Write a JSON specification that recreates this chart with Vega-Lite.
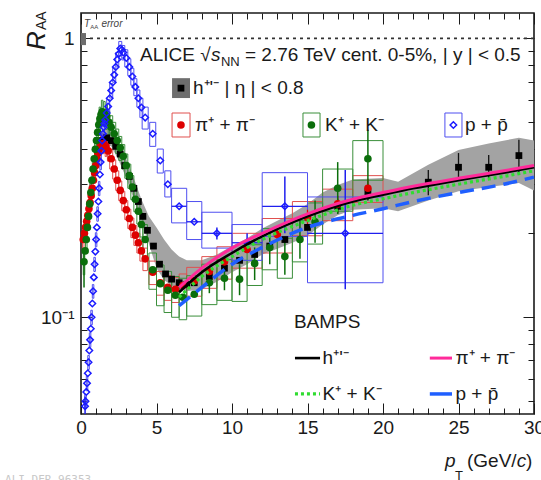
{
"$schema":"https://vega.github.io/schema/vega-lite/v6.json",
"width":453,"height":401,
"autosize":{"type":"none"},
"padding":{"left":81,"top":13,"right":7,"bottom":66},
"background":"white",
"config":{"view":{"stroke":"#1a1a1a","strokeWidth":1.6},"font":"Liberation Sans","text":{"font":"Liberation Sans","color":"#1a1a1a"}},
"resolve":{"axis":{"x":"independent","y":"independent"}},
"datasets":{
"band":[{"x":0.5,"lo":0.25,"hi":0.29},{"x":1.0,"lo":0.36,"hi":0.41},{"x":1.5,"lo":0.42,"hi":0.475},{"x":2.0,"lo":0.41,"hi":0.47},{"x":2.5,"lo":0.365,"hi":0.425},{"x":3.0,"lo":0.315,"hi":0.37},{"x":3.5,"lo":0.265,"hi":0.315},{"x":4.0,"lo":0.22,"hi":0.265},{"x":4.5,"lo":0.183,"hi":0.23},{"x":5.0,"lo":0.15,"hi":0.21},{"x":5.5,"lo":0.136,"hi":0.19},{"x":6.0,"lo":0.13,"hi":0.175},{"x":6.5,"lo":0.126,"hi":0.165},{"x":7.0,"lo":0.124,"hi":0.16},{"x":8.0,"lo":0.126,"hi":0.16},{"x":9.0,"lo":0.134,"hi":0.168},{"x":10,"lo":0.145,"hi":0.18},{"x":11,"lo":0.155,"hi":0.192},{"x":12,"lo":0.168,"hi":0.208},{"x":13,"lo":0.176,"hi":0.222},{"x":14,"lo":0.185,"hi":0.236},{"x":15,"lo":0.196,"hi":0.255},{"x":16,"lo":0.215,"hi":0.28},{"x":17,"lo":0.232,"hi":0.298},{"x":18,"lo":0.243,"hi":0.312},{"x":20,"lo":0.246,"hi":0.316},{"x":21,"lo":0.24,"hi":0.306},{"x":23,"lo":0.262,"hi":0.352},{"x":25,"lo":0.283,"hi":0.398},{"x":27,"lo":0.293,"hi":0.42},{"x":29,"lo":0.303,"hi":0.44},{"x":30,"lo":0.285,"hi":0.43}],
"pts":[
{"s":"h","x":1.1,"y":0.40},{"s":"h","x":1.4,"y":0.43},{"s":"h","x":1.7,"y":0.44},{"s":"h","x":2.0,"y":0.43},{"s":"h","x":2.3,"y":0.41},{"s":"h","x":2.6,"y":0.385},{"s":"h","x":2.9,"y":0.35},{"s":"h","x":3.2,"y":0.32},{"s":"h","x":3.5,"y":0.29},{"s":"h","x":3.8,"y":0.26},{"s":"h","x":4.1,"y":0.23},{"s":"h","x":4.4,"y":0.205},{"s":"h","x":4.8,"y":0.18},{"s":"h","x":5.2,"y":0.155},{"s":"h","x":5.6,"y":0.143},{"s":"h","x":6.0,"y":0.137},{"s":"h","x":6.5,"y":0.133},{"s":"h","x":7.0,"y":0.131},{"s":"h","x":7.5,"y":0.133},{"s":"h","x":8.5,"y":0.14},{"s":"h","x":9.5,"y":0.15},{"s":"h","x":10.5,"y":0.16},{"s":"h","x":11.5,"y":0.168},{"s":"h","x":12.5,"y":0.18},{"s":"h","x":13.5,"y":0.19},{"s":"h","x":15,"y":0.21},{"s":"h","x":17,"y":0.25},{"s":"h","x":19,"y":0.28},{"s":"h","x":23,"y":0.305},{"s":"h","x":25,"y":0.345},{"s":"h","x":27,"y":0.345},{"s":"h","x":29,"y":0.38},
{"s":"h","g":"leg","x":6.62,"y":0.663},
{"s":"pi","x":0.15,"y":0.19,"x1":0.1,"x2":0.2,"y1":0.175,"y2":0.205},
{"s":"pi","x":0.225,"y":0.2},
{"s":"pi","x":0.3,"y":0.21,"x1":0.25,"x2":0.35,"y1":0.193,"y2":0.227},
{"s":"pi","x":0.375,"y":0.221},
{"s":"pi","x":0.45,"y":0.232,"x1":0.4,"x2":0.5,"y1":0.213,"y2":0.25},
{"s":"pi","x":0.525,"y":0.245},
{"s":"pi","x":0.6,"y":0.258,"x1":0.55,"x2":0.65,"y1":0.237,"y2":0.279},
{"s":"pi","x":0.675,"y":0.273},
{"s":"pi","x":0.75,"y":0.29,"x1":0.7,"x2":0.8,"y1":0.267,"y2":0.313},
{"s":"pi","x":0.825,"y":0.31},
{"s":"pi","x":0.9,"y":0.33,"x1":0.85,"x2":0.95,"y1":0.304,"y2":0.356},
{"s":"pi","x":0.975,"y":0.35},
{"s":"pi","x":1.05,"y":0.37,"x1":1.0,"x2":1.1,"y1":0.34,"y2":0.4},
{"s":"pi","x":1.125,"y":0.387},
{"s":"pi","x":1.2,"y":0.4,"x1":1.15,"x2":1.25,"y1":0.368,"y2":0.432},
{"s":"pi","x":1.275,"y":0.41},
{"s":"pi","x":1.35,"y":0.418,"x1":1.3,"x2":1.4,"y1":0.385,"y2":0.451},
{"s":"pi","x":1.5,"y":0.42,"x1":1.45,"x2":1.55,"y1":0.386,"y2":0.454},
{"s":"pi","x":1.65,"y":0.41,"x1":1.6,"x2":1.7,"y1":0.377,"y2":0.443},
{"s":"pi","x":1.8,"y":0.395,"x1":1.75,"x2":1.85,"y1":0.363,"y2":0.427},
{"s":"pi","x":2.0,"y":0.37,"x1":1.9,"x2":2.1,"y1":0.34,"y2":0.4},
{"s":"pi","x":2.2,"y":0.34,"x1":2.1,"x2":2.3,"y1":0.313,"y2":0.367},
{"s":"pi","x":2.4,"y":0.31,"x1":2.3,"x2":2.5,"y1":0.285,"y2":0.335},
{"s":"pi","x":2.6,"y":0.285,"x1":2.5,"x2":2.7,"y1":0.262,"y2":0.308},
{"s":"pi","x":2.8,"y":0.262,"x1":2.7,"x2":2.9,"y1":0.241,"y2":0.283},
{"s":"pi","x":3.0,"y":0.243,"x1":2.9,"x2":3.1,"y1":0.224,"y2":0.262},
{"s":"pi","x":3.2,"y":0.226,"x1":3.1,"x2":3.3,"y1":0.208,"y2":0.244},
{"s":"pi","x":3.4,"y":0.21,"x1":3.3,"x2":3.5,"y1":0.193,"y2":0.227},
{"s":"pi","x":3.6,"y":0.197,"x1":3.5,"x2":3.7,"y1":0.181,"y2":0.213},
{"s":"pi","x":3.8,"y":0.185,"x1":3.7,"x2":3.9,"y1":0.17,"y2":0.2},
{"s":"pi","x":4.0,"y":0.173,"x1":3.9,"x2":4.1,"y1":0.159,"y2":0.187},
{"s":"pi","x":4.25,"y":0.162,"x1":4.1,"x2":4.4,"y1":0.147,"y2":0.177},
{"s":"pi","x":4.75,"y":0.145,"x1":4.5,"x2":5.0,"y1":0.131,"y2":0.159},
{"s":"pi","x":5.25,"y":0.133,"x1":5.0,"x2":5.5,"y1":0.12,"y2":0.146},
{"s":"pi","x":5.75,"y":0.128,"x1":5.5,"x2":6.0,"y1":0.115,"y2":0.141},
{"s":"pi","x":6.25,"y":0.126,"x1":6.0,"x2":6.5,"y1":0.113,"y2":0.139},
{"s":"pi","x":6.75,"y":0.13,"x1":6.5,"x2":7.0,"y1":0.117,"y2":0.143},
{"s":"pi","x":7.5,"y":0.135,"x1":7.0,"x2":8.0,"y1":0.119,"y2":0.151},
{"s":"pi","x":8.5,"y":0.146,"x1":8.0,"x2":9.0,"y1":0.127,"y2":0.165},
{"s":"pi","x":9.5,"y":0.158,"x1":9.0,"x2":10.0,"y1":0.137,"y2":0.179},
{"s":"pi","x":11,"y":0.175,"x1":10,"x2":12,"y1":0.15,"y2":0.2},
{"s":"pi","x":13,"y":0.198,"x1":12,"x2":14,"y1":0.17,"y2":0.226},
{"s":"pi","x":15,"y":0.228,"x1":14,"x2":16,"y1":0.196,"y2":0.26},
{"s":"pi","x":17,"y":0.255,"x1":16,"x2":18,"y1":0.222,"y2":0.288},
{"s":"pi","x":19,"y":0.29,"x1":18,"x2":20,"y1":0.258,"y2":0.322},
{"s":"pi","g":"leg","x":6.62,"y":0.489,"x1":6.03,"x2":7.22,"y1":0.443,"y2":0.54},
{"s":"K","x":0.2,"y":0.158,"x1":0.15,"x2":0.25,"y1":0.142,"y2":0.174},
{"s":"K","x":0.275,"y":0.173},
{"s":"K","x":0.35,"y":0.19,"x1":0.3,"x2":0.4,"y1":0.171,"y2":0.209},
{"s":"K","x":0.425,"y":0.21},
{"s":"K","x":0.5,"y":0.23,"x1":0.45,"x2":0.55,"y1":0.207,"y2":0.253},
{"s":"K","x":0.575,"y":0.255},
{"s":"K","x":0.65,"y":0.28,"x1":0.6,"x2":0.7,"y1":0.252,"y2":0.308},
{"s":"K","x":0.725,"y":0.31},
{"s":"K","x":0.8,"y":0.34,"x1":0.75,"x2":0.85,"y1":0.306,"y2":0.374},
{"s":"K","x":0.875,"y":0.37},
{"s":"K","x":0.95,"y":0.4,"x1":0.9,"x2":1.0,"y1":0.36,"y2":0.44},
{"s":"K","x":1.025,"y":0.43},
{"s":"K","x":1.1,"y":0.46,"x1":1.05,"x2":1.15,"y1":0.414,"y2":0.506},
{"s":"K","x":1.175,"y":0.49},
{"s":"K","x":1.25,"y":0.515,"x1":1.2,"x2":1.3,"y1":0.464,"y2":0.567},
{"s":"K","x":1.325,"y":0.533},
{"s":"K","x":1.4,"y":0.545,"x1":1.35,"x2":1.45,"y1":0.49,"y2":0.6},
{"s":"K","x":1.55,"y":0.54,"x1":1.5,"x2":1.6,"y1":0.486,"y2":0.594},
{"s":"K","x":1.7,"y":0.525,"x1":1.65,"x2":1.75,"y1":0.472,"y2":0.578},
{"s":"K","x":1.85,"y":0.5,"x1":1.8,"x2":1.9,"y1":0.45,"y2":0.55},
{"s":"K","x":2.0,"y":0.48,"x1":1.9,"x2":2.1,"y1":0.432,"y2":0.528},
{"s":"K","x":2.2,"y":0.455,"x1":2.1,"x2":2.3,"y1":0.41,"y2":0.5},
{"s":"K","x":2.4,"y":0.43,"x1":2.3,"x2":2.5,"y1":0.387,"y2":0.473},
{"s":"K","x":2.6,"y":0.405,"x1":2.5,"x2":2.7,"y1":0.365,"y2":0.445},
{"s":"K","x":2.8,"y":0.378,"x1":2.7,"x2":2.9,"y1":0.34,"y2":0.416},
{"s":"K","x":3.0,"y":0.35,"x1":2.9,"x2":3.1,"y1":0.315,"y2":0.385},
{"s":"K","x":3.2,"y":0.322,"x1":3.1,"x2":3.3,"y1":0.29,"y2":0.354},
{"s":"K","x":3.4,"y":0.293,"x1":3.3,"x2":3.5,"y1":0.264,"y2":0.322},
{"s":"K","x":3.6,"y":0.265,"x1":3.5,"x2":3.7,"y1":0.239,"y2":0.292},
{"s":"K","x":3.8,"y":0.24,"x1":3.7,"x2":3.9,"y1":0.216,"y2":0.264},
{"s":"K","x":4.0,"y":0.215,"x1":3.9,"x2":4.1,"y1":0.194,"y2":0.237},
{"s":"K","x":4.25,"y":0.19,"x1":4.1,"x2":4.4,"y1":0.165,"y2":0.215},
{"s":"K","x":4.75,"y":0.148,"x1":4.5,"x2":5.0,"y1":0.126,"y2":0.17},
{"s":"K","x":5.25,"y":0.132,"x1":5.0,"x2":5.5,"y1":0.11,"y2":0.154},
{"s":"K","x":5.75,"y":0.125,"x1":5.5,"x2":6.0,"y1":0.104,"y2":0.146},
{"s":"K","x":6.25,"y":0.12,"x1":6.0,"x2":6.5,"y1":0.1,"y2":0.14},
{"s":"K","x":6.75,"y":0.118,"x1":6.5,"x2":7.0,"y1":0.098,"y2":0.138},
{"s":"K","x":7.5,"y":0.121,"x1":7.0,"x2":8.0,"y1":0.101,"y2":0.141},
{"s":"K","x":8.5,"y":0.133,"x1":8.0,"x2":9.0,"y1":0.111,"y2":0.155},
{"s":"K","x":9.5,"y":0.138,"x1":9.0,"x2":10.0,"y1":0.115,"y2":0.161},
{"s":"K","x":10.5,"y":0.137,"x1":10,"x2":11,"y1":0.114,"y2":0.16},
{"s":"K","x":11.5,"y":0.156,"x1":11,"x2":12,"y1":0.13,"y2":0.182},
{"s":"K","x":12.5,"y":0.178,"x1":12,"x2":13,"y1":0.148,"y2":0.208},
{"s":"K","x":13.5,"y":0.165,"x1":13,"x2":14,"y1":0.138,"y2":0.192},
{"s":"K","x":14.5,"y":0.19,"x1":14,"x2":15,"y1":0.158,"y2":0.222},
{"s":"K","x":15.5,"y":0.22,"x1":15,"x2":16,"y1":0.183,"y2":0.257},
{"s":"K","x":17,"y":0.29,"x1":16,"x2":18,"y1":0.24,"y2":0.34},
{"s":"K","x":19,"y":0.37,"x1":18,"x2":20,"y1":0.31,"y2":0.43},
{"s":"K","g":"leg","x":15.26,"y":0.489,"x1":14.7,"x2":15.83,"y1":0.443,"y2":0.54},
{"s":"p","x":0.27,"y":0.048},
{"s":"p","x":0.3,"y":0.05,"x1":0.25,"x2":0.35,"y1":0.047,"y2":0.053},
{"s":"p","x":0.35,"y":0.054},
{"s":"p","x":0.4,"y":0.058,"x1":0.35,"x2":0.45,"y1":0.0545,"y2":0.0615},
{"s":"p","x":0.45,"y":0.063},
{"s":"p","x":0.5,"y":0.069,"x1":0.45,"x2":0.55,"y1":0.065,"y2":0.073},
{"s":"p","x":0.55,"y":0.076},
{"s":"p","x":0.6,"y":0.083,"x1":0.55,"x2":0.65,"y1":0.078,"y2":0.088},
{"s":"p","x":0.65,"y":0.091},
{"s":"p","x":0.7,"y":0.1,"x1":0.65,"x2":0.75,"y1":0.094,"y2":0.106},
{"s":"p","x":0.75,"y":0.112},
{"s":"p","x":0.8,"y":0.124,"x1":0.75,"x2":0.85,"y1":0.117,"y2":0.131},
{"s":"p","x":0.85,"y":0.139},
{"s":"p","x":0.9,"y":0.155,"x1":0.85,"x2":0.95,"y1":0.146,"y2":0.164},
{"s":"p","x":0.95,"y":0.172},
{"s":"p","x":1.0,"y":0.19,"x1":0.95,"x2":1.05,"y1":0.179,"y2":0.201},
{"s":"p","x":1.05,"y":0.21},
{"s":"p","x":1.1,"y":0.235,"x1":1.05,"x2":1.15,"y1":0.221,"y2":0.249},
{"s":"p","x":1.15,"y":0.26},
{"s":"p","x":1.2,"y":0.29,"x1":1.15,"x2":1.25,"y1":0.273,"y2":0.307},
{"s":"p","x":1.25,"y":0.325},
{"s":"p","x":1.3,"y":0.36,"x1":1.25,"x2":1.35,"y1":0.338,"y2":0.382},
{"s":"p","x":1.35,"y":0.395},
{"s":"p","x":1.4,"y":0.43,"x1":1.35,"x2":1.45,"y1":0.404,"y2":0.456},
{"s":"p","x":1.45,"y":0.455},
{"s":"p","x":1.5,"y":0.48,"x1":1.45,"x2":1.55,"y1":0.451,"y2":0.509},
{"s":"p","x":1.55,"y":0.495},
{"s":"p","x":1.6,"y":0.51,"x1":1.55,"x2":1.65,"y1":0.479,"y2":0.541},
{"s":"p","x":1.7,"y":0.54},
{"s":"p","x":1.8,"y":0.57,"x1":1.7,"x2":1.9,"y1":0.536,"y2":0.604},
{"s":"p","x":1.9,"y":0.61},
{"s":"p","x":2.0,"y":0.65,"x1":1.9,"x2":2.1,"y1":0.611,"y2":0.689},
{"s":"p","x":2.1,"y":0.695},
{"s":"p","x":2.2,"y":0.74,"x1":2.1,"x2":2.3,"y1":0.696,"y2":0.784},
{"s":"p","x":2.3,"y":0.79},
{"s":"p","x":2.4,"y":0.84,"x1":2.3,"x2":2.5,"y1":0.79,"y2":0.89},
{"s":"p","x":2.5,"y":0.88},
{"s":"p","x":2.6,"y":0.92,"x1":2.5,"x2":2.7,"y1":0.865,"y2":0.975},
{"s":"p","x":2.7,"y":0.91},
{"s":"p","x":2.8,"y":0.89,"x1":2.7,"x2":2.9,"y1":0.837,"y2":0.943},
{"s":"p","x":3.0,"y":0.85,"x1":2.9,"x2":3.1,"y1":0.79,"y2":0.91},
{"s":"p","x":3.2,"y":0.79,"x1":3.1,"x2":3.3,"y1":0.735,"y2":0.845},
{"s":"p","x":3.4,"y":0.73,"x1":3.3,"x2":3.5,"y1":0.679,"y2":0.781},
{"s":"p","x":3.6,"y":0.67,"x1":3.5,"x2":3.7,"y1":0.623,"y2":0.717},
{"s":"p","x":3.8,"y":0.61,"x1":3.7,"x2":3.9,"y1":0.567,"y2":0.653},
{"s":"p","x":4.0,"y":0.565,"x1":3.9,"x2":4.1,"y1":0.52,"y2":0.61},
{"s":"p","x":4.25,"y":0.52,"x1":4.05,"x2":4.45,"y1":0.473,"y2":0.567},
{"s":"p","x":4.75,"y":0.455,"x1":4.55,"x2":4.95,"y1":0.41,"y2":0.5},
{"s":"p","x":5.25,"y":0.365,"x1":5.05,"x2":5.45,"y1":0.329,"y2":0.401},
{"s":"p","x":5.75,"y":0.3,"x1":5.55,"x2":5.95,"y1":0.27,"y2":0.335},
{"s":"p","x":6.5,"y":0.25,"x1":6.0,"x2":7.0,"y1":0.218,"y2":0.29},
{"s":"p","x":7.5,"y":0.22,"x1":7.0,"x2":8.0,"y1":0.19,"y2":0.26},
{"s":"p","x":9,"y":0.2,"x1":8.0,"x2":10.0,"y1":0.177,"y2":0.238},
{"s":"p","x":11,"y":0.185,"x1":10,"x2":12,"y1":0.16,"y2":0.215},
{"s":"p","x":13.5,"y":0.25,"x1":12,"x2":15,"y1":0.195,"y2":0.33},
{"s":"p","x":17.5,"y":0.2,"x1":15,"x2":20,"y1":0.133,"y2":0.27},
{"s":"p","g":"leg","x":24.66,"y":0.489,"x1":24.1,"x2":25.23,"y1":0.443,"y2":0.54}
],
"err":[
{"s":"h","x":17,"e1":0.235,"e2":0.266},{"s":"h","x":19,"e1":0.262,"e2":0.3},{"s":"h","x":23,"e1":0.274,"e2":0.337},{"s":"h","x":25,"e1":0.316,"e2":0.388},{"s":"h","x":27,"e1":0.311,"e2":0.382},{"s":"h","x":29,"e1":0.332,"e2":0.433},
{"s":"pi","x":13,"e1":0.188,"e2":0.209},{"s":"pi","x":15,"e1":0.214,"e2":0.243},{"s":"pi","x":17,"e1":0.238,"e2":0.273},{"s":"pi","x":19,"e1":0.268,"e2":0.314},
{"s":"K","x":0.2,"e1":0.128,"e2":0.175},{"s":"K","x":8.5,"e1":0.122,"e2":0.145},{"s":"K","x":9.5,"e1":0.125,"e2":0.152},{"s":"K","x":10.5,"e1":0.12,"e2":0.155},{"s":"K","x":11.5,"e1":0.136,"e2":0.178},{"s":"K","x":12.5,"e1":0.155,"e2":0.205},{"s":"K","x":13.5,"e1":0.142,"e2":0.192},{"s":"K","x":14.5,"e1":0.162,"e2":0.222},{"s":"K","x":15.5,"e1":0.185,"e2":0.262},{"s":"K","x":17,"e1":0.235,"e2":0.36},{"s":"K","x":19,"e1":0.264,"e2":0.47},
{"s":"p","x":0.27,"e1":0.045,"e2":0.052},{"s":"p","x":9,"e1":0.19,"e2":0.21},{"s":"p","x":11,"e1":0.17,"e2":0.2},{"s":"p","x":13.5,"e1":0.2,"e2":0.32},{"s":"p","x":17.5,"e1":0.126,"e2":0.337}
],
"pxerr":[{"y":0.25,"x1":6.0,"x2":7.0},{"y":0.22,"x1":7.0,"x2":8.0},{"y":0.2,"x1":8.0,"x2":10.0},{"y":0.185,"x1":10,"x2":12},{"y":0.25,"x1":12,"x2":15},{"y":0.2,"x1":15,"x2":20}],
"bamps":[
{"s":"h","g":"c","x":6.5,"y":0.123},{"s":"h","g":"c","x":8,"y":0.145},{"s":"h","g":"c","x":10,"y":0.17},{"s":"h","g":"c","x":12,"y":0.195},{"s":"h","g":"c","x":15,"y":0.23},{"s":"h","g":"c","x":18,"y":0.26},{"s":"h","g":"c","x":20,"y":0.275},{"s":"h","g":"c","x":22,"y":0.29},{"s":"h","g":"c","x":25,"y":0.31},{"s":"h","g":"c","x":28,"y":0.33},{"s":"h","g":"c","x":30,"y":0.345},
{"s":"h","g":"l","x":14.17,"y":0.0714},{"s":"h","g":"l","x":15.83,"y":0.0714},
{"s":"pi","g":"c","x":6.5,"y":0.128},{"s":"pi","g":"c","x":8,"y":0.15},{"s":"pi","g":"c","x":10,"y":0.177},{"s":"pi","g":"c","x":12,"y":0.2},{"s":"pi","g":"c","x":15,"y":0.235},{"s":"pi","g":"c","x":18,"y":0.265},{"s":"pi","g":"c","x":20,"y":0.28},{"s":"pi","g":"c","x":22,"y":0.295},{"s":"pi","g":"c","x":25,"y":0.315},{"s":"pi","g":"c","x":28,"y":0.335},{"s":"pi","g":"c","x":30,"y":0.35},
{"s":"pi","g":"l","x":23.1,"y":0.0714},{"s":"pi","g":"l","x":24.57,"y":0.0714},
{"s":"K","g":"c","x":6.5,"y":0.118},{"s":"K","g":"c","x":8,"y":0.14},{"s":"K","g":"c","x":10,"y":0.165},{"s":"K","g":"c","x":12,"y":0.19},{"s":"K","g":"c","x":15,"y":0.222},{"s":"K","g":"c","x":18,"y":0.252},{"s":"K","g":"c","x":20,"y":0.266},{"s":"K","g":"c","x":22,"y":0.28},{"s":"K","g":"c","x":25,"y":0.3},{"s":"K","g":"c","x":28,"y":0.32},{"s":"K","g":"c","x":30,"y":0.335},
{"s":"K","g":"l","x":14.17,"y":0.0531},{"s":"K","g":"l","x":15.83,"y":0.0531},
{"s":"p","g":"c","x":6.5,"y":0.11},{"s":"p","g":"c","x":8,"y":0.128},{"s":"p","g":"c","x":10,"y":0.155},{"s":"p","g":"c","x":12,"y":0.178},{"s":"p","g":"c","x":15,"y":0.21},{"s":"p","g":"c","x":18,"y":0.232},{"s":"p","g":"c","x":20,"y":0.245},{"s":"p","g":"c","x":22,"y":0.26},{"s":"p","g":"c","x":25,"y":0.28},{"s":"p","g":"c","x":28,"y":0.3},{"s":"p","g":"c","x":30,"y":0.318}
],
"pleg":[{"x":23.1,"y":0.0531,"x2":24.57}],
"txt":[
{"t":"ALICE √","x":3.91,"y":0.871},
{"t":"= 2.76 TeV cent. 0-5%, | y | < 0.5","x":10.86,"y":0.871},
{"t":"h⁺'⁻ | η | < 0.8","x":7.42,"y":0.663},
{"t":"π⁺ + π⁻","x":7.55,"y":0.489},
{"t":"K⁺ + K⁻","x":16.16,"y":0.489},
{"t":"p + p̄","x":25.43,"y":0.489},
{"t":"BAMPS","x":14.1,"y":0.0961},
{"t":"h⁺'⁻","x":16.0,"y":0.0714},
{"t":"π⁺ + π⁻","x":24.8,"y":0.0714},
{"t":"K⁺ + K⁻","x":16.0,"y":0.0531},
{"t":"p + p̄","x":24.8,"y":0.0531}
],
"txtit":[{"t":"s","x":8.61,"y":0.871}],
"txtsub":[{"t":"NN","x":9.27,"y":0.822}],
"xtitle":[{"t":"(GeV/","x":25.56,"y":0.029},{"t":")","x":29.47,"y":0.029}],
"xtitleit":[{"t":"p","x":24.1,"y":0.029},{"t":"c","x":28.85,"y":0.029}],
"xtitlesub":[{"t":"T","x":24.77,"y":0.0262}],
"ytitle":[{"t":"R","x":-2.38,"y":0.908}],
"ytitlesub":[{"t":"AA","x":-2.32,"y":1.071}],
"taa":[{"x1":0,"x2":0.33,"y1":0.946,"y2":1.045}],
"taatxt":[{"t":"T","x":0.2,"y":1.098},{"t":"error","x":1.35,"y":1.098}],
"taatxt2":[{"t":"AA","x":0.62,"y":1.08}],
"hleg":[{"x1":6.03,"x2":7.22,"y1":0.611,"y2":0.72}],
"wm":[{"t":"ALI-DER-96353","x":-5.03,"y":0.0254}]
},
"layer":[
{"data":{"name":"band"},"mark":{"type":"area","color":"#a3a3a3"},
 "encoding":{
  "x":{"field":"x","type":"quantitative","scale":{"domain":[0,30],"nice":false,"zero":false},
   "axis":{"orient":"bottom","values":[0,1,2,3,4,5,6,7,8,9,10,11,12,13,14,15,16,17,18,19,20,21,22,23,24,25,26,27,28,29,30],"labelExpr":"datum.value % 5 === 0 ? datum.label : ''","tickSize":{"condition":{"test":"datum.value % 5 === 0","value":-11},"value":-6},"tickColor":"#1a1a1a","tickWidth":1,"labelPadding":15,"labelFontSize":19,"labelFont":"Liberation Sans","labelColor":"#1a1a1a","labelFlush":false,"labelOverlap":false,"domain":false,"grid":false,"title":null}},
  "y":{"field":"lo","type":"quantitative","scale":{"type":"log","domain":[0.045,1.233],"nice":false},
   "axis":{"orient":"left","values":[0.05,0.06,0.07,0.08,0.09,0.1,0.2,0.3,0.4,0.5,0.6,0.7,0.8,0.9,1],"labelExpr":"datum.value == 1 ? '1' : (datum.value == 0.1 ? '10⁻¹' : '')","tickSize":{"condition":{"test":"datum.value == 1 || datum.value == 0.1","value":-11},"value":-6},"tickColor":"#1a1a1a","tickWidth":1,"labelPadding":18,"labelFontSize":19,"labelFont":"Liberation Sans","labelColor":"#1a1a1a","labelFlush":false,"labelOverlap":false,"domain":false,"grid":false,"title":null}},
  "y2":{"field":"hi"}}},
{"data":{"values":[{}]},"mark":{"type":"rule","strokeDash":[3,4],"color":"#333","strokeWidth":1.6},
 "encoding":{"y":{"datum":1,"type":"quantitative","scale":{"type":"log","domain":[0.045,1.233],"nice":false},"axis":null}}},
{"data":{"name":"taa"},"mark":{"type":"rect","color":"#6e6e6e"},
 "encoding":{"x":{"field":"x1","type":"quantitative","scale":{"domain":[0,30],"nice":false,"zero":false},"axis":null},"x2":{"field":"x2"},
  "y":{"field":"y1","type":"quantitative","scale":{"type":"log","domain":[0.045,1.233],"nice":false},"axis":null},"y2":{"field":"y2"}}},
{"data":{"name":"hleg"},"mark":{"type":"rect","color":"#6e6e6e"},
 "encoding":{"x":{"field":"x1","type":"quantitative","scale":{"domain":[0,30],"nice":false,"zero":false},"axis":null},"x2":{"field":"x2"},
  "y":{"field":"y1","type":"quantitative","scale":{"type":"log","domain":[0.045,1.233],"nice":false},"axis":null},"y2":{"field":"y2"}}},
{"data":{"name":"pts"},"transform":[{"filter":"datum.s === 'pi' && isValid(datum.x1)"}],"mark":{"type":"rect","fill":null,"fillOpacity":0,"stroke":"#e0504f","strokeWidth":1},
 "encoding":{"x":{"field":"x1","type":"quantitative","scale":{"domain":[0,30],"nice":false,"zero":false},"axis":null},"x2":{"field":"x2"},
  "y":{"field":"y1","type":"quantitative","scale":{"type":"log","domain":[0.045,1.233],"nice":false},"axis":null},"y2":{"field":"y2"}}},
{"data":{"name":"pts"},"transform":[{"filter":"datum.s === 'K' && isValid(datum.x1)"}],"mark":{"type":"rect","fill":null,"fillOpacity":0,"stroke":"#3b8f3b","strokeWidth":1},
 "encoding":{"x":{"field":"x1","type":"quantitative","scale":{"domain":[0,30],"nice":false,"zero":false},"axis":null},"x2":{"field":"x2"},
  "y":{"field":"y1","type":"quantitative","scale":{"type":"log","domain":[0.045,1.233],"nice":false},"axis":null},"y2":{"field":"y2"}}},
{"data":{"name":"pts"},"transform":[{"filter":"datum.s === 'p' && isValid(datum.x1)"}],"mark":{"type":"rect","fill":null,"fillOpacity":0,"stroke":"#4f4ff0","strokeWidth":1},
 "encoding":{"x":{"field":"x1","type":"quantitative","scale":{"domain":[0,30],"nice":false,"zero":false},"axis":null},"x2":{"field":"x2"},
  "y":{"field":"y1","type":"quantitative","scale":{"type":"log","domain":[0.045,1.233],"nice":false},"axis":null},"y2":{"field":"y2"}}},
{"data":{"name":"pxerr"},"mark":{"type":"rule","color":"#2020ee","strokeWidth":1.3},
 "encoding":{"x":{"field":"x1","type":"quantitative","scale":{"domain":[0,30],"nice":false,"zero":false},"axis":null},"x2":{"field":"x2"},
  "y":{"field":"y","type":"quantitative","scale":{"type":"log","domain":[0.045,1.233],"nice":false},"axis":null}}},
{"data":{"name":"err"},"transform":[{"filter":"datum.s === 'h'"}],"mark":{"type":"rule","color":"#111","strokeWidth":1.3},
 "encoding":{"x":{"field":"x","type":"quantitative","scale":{"domain":[0,30],"nice":false,"zero":false},"axis":null},
  "y":{"field":"e1","type":"quantitative","scale":{"type":"log","domain":[0.045,1.233],"nice":false},"axis":null},"y2":{"field":"e2"}}},
{"data":{"name":"err"},"transform":[{"filter":"datum.s === 'pi'"}],"mark":{"type":"rule","color":"#dd0000","strokeWidth":1.3},
 "encoding":{"x":{"field":"x","type":"quantitative","scale":{"domain":[0,30],"nice":false,"zero":false},"axis":null},
  "y":{"field":"e1","type":"quantitative","scale":{"type":"log","domain":[0.045,1.233],"nice":false},"axis":null},"y2":{"field":"e2"}}},
{"data":{"name":"err"},"transform":[{"filter":"datum.s === 'K'"}],"mark":{"type":"rule","color":"#0b6e0b","strokeWidth":1.5},
 "encoding":{"x":{"field":"x","type":"quantitative","scale":{"domain":[0,30],"nice":false,"zero":false},"axis":null},
  "y":{"field":"e1","type":"quantitative","scale":{"type":"log","domain":[0.045,1.233],"nice":false},"axis":null},"y2":{"field":"e2"}}},
{"data":{"name":"err"},"transform":[{"filter":"datum.s === 'p'"}],"mark":{"type":"rule","color":"#2020ee","strokeWidth":1.5},
 "encoding":{"x":{"field":"x","type":"quantitative","scale":{"domain":[0,30],"nice":false,"zero":false},"axis":null},
  "y":{"field":"e1","type":"quantitative","scale":{"type":"log","domain":[0.045,1.233],"nice":false},"axis":null},"y2":{"field":"e2"}}},
{"data":{"name":"pts"},"transform":[{"filter":"datum.s === 'h'"}],"mark":{"type":"point","shape":"square","filled":true,"color":"#000","size":46,"opacity":1},
 "encoding":{"x":{"field":"x","type":"quantitative","scale":{"domain":[0,30],"nice":false,"zero":false},"axis":null},
  "y":{"field":"y","type":"quantitative","scale":{"type":"log","domain":[0.045,1.233],"nice":false},"axis":null}}},
{"data":{"name":"pts"},"transform":[{"filter":"datum.s === 'pi'"}],"mark":{"type":"point","shape":"circle","filled":true,"color":"#dd0000","size":58,"opacity":1},
 "encoding":{"x":{"field":"x","type":"quantitative","scale":{"domain":[0,30],"nice":false,"zero":false},"axis":null},
  "y":{"field":"y","type":"quantitative","scale":{"type":"log","domain":[0.045,1.233],"nice":false},"axis":null}}},
{"data":{"name":"pts"},"transform":[{"filter":"datum.s === 'K'"}],"mark":{"type":"point","shape":"circle","filled":true,"color":"#0b6e0b","size":58,"opacity":1},
 "encoding":{"x":{"field":"x","type":"quantitative","scale":{"domain":[0,30],"nice":false,"zero":false},"axis":null},
  "y":{"field":"y","type":"quantitative","scale":{"type":"log","domain":[0.045,1.233],"nice":false},"axis":null}}},
{"data":{"name":"pts"},"transform":[{"filter":"datum.s === 'p'"}],"mark":{"type":"point","shape":"diamond","filled":false,"color":"#1a1aff","size":42,"strokeWidth":1.5,"opacity":1},
 "encoding":{"x":{"field":"x","type":"quantitative","scale":{"domain":[0,30],"nice":false,"zero":false},"axis":null},
  "y":{"field":"y","type":"quantitative","scale":{"type":"log","domain":[0.045,1.233],"nice":false},"axis":null}}},
{"data":{"name":"bamps"},"transform":[{"filter":"datum.s === 'p'"}],"mark":{"type":"line","color":"#1f5fff","strokeWidth":3.5,"strokeDash":[14,8],"interpolate":"monotone"},
 "encoding":{"detail":{"field":"g"},"x":{"field":"x","type":"quantitative","scale":{"domain":[0,30],"nice":false,"zero":false},
   "axis":{"orient":"top","values":[0,1,2,3,4,5,6,7,8,9,10,11,12,13,14,15,16,17,18,19,20,21,22,23,24,25,26,27,28,29,30],"labels":false,"tickSize":{"condition":{"test":"datum.value % 5 === 0","value":-11},"value":-6},"tickColor":"#1a1a1a","domain":false,"grid":false,"title":null}},
  "y":{"field":"y","type":"quantitative","scale":{"type":"log","domain":[0.045,1.233],"nice":false},
   "axis":{"orient":"right","values":[0.05,0.06,0.07,0.08,0.09,0.1,0.2,0.3,0.4,0.5,0.6,0.7,0.8,0.9,1],"labels":false,"tickSize":{"condition":{"test":"datum.value == 1 || datum.value == 0.1","value":-11},"value":-6},"tickColor":"#1a1a1a","domain":false,"grid":false,"title":null}}}},
{"data":{"name":"pleg"},"mark":{"type":"rule","color":"#1f5fff","strokeWidth":3.5},
 "encoding":{"x":{"field":"x","type":"quantitative","scale":{"domain":[0,30],"nice":false,"zero":false},"axis":null},"x2":{"field":"x2"},
  "y":{"field":"y","type":"quantitative","scale":{"type":"log","domain":[0.045,1.233],"nice":false},"axis":null}}},
{"data":{"name":"bamps"},"transform":[{"filter":"datum.s === 'h'"}],"mark":{"type":"line","color":"#000","strokeWidth":2.6,"interpolate":"monotone"},
 "encoding":{"detail":{"field":"g"},"x":{"field":"x","type":"quantitative","scale":{"domain":[0,30],"nice":false,"zero":false},"axis":null},
  "y":{"field":"y","type":"quantitative","scale":{"type":"log","domain":[0.045,1.233],"nice":false},"axis":null}}},
{"data":{"name":"bamps"},"transform":[{"filter":"datum.s === 'pi'"}],"mark":{"type":"line","color":"#ff2a9a","strokeWidth":3,"interpolate":"monotone"},
 "encoding":{"detail":{"field":"g"},"x":{"field":"x","type":"quantitative","scale":{"domain":[0,30],"nice":false,"zero":false},"axis":null},
  "y":{"field":"y","type":"quantitative","scale":{"type":"log","domain":[0.045,1.233],"nice":false},"axis":null}}},
{"data":{"name":"bamps"},"transform":[{"filter":"datum.s === 'K'"}],"mark":{"type":"line","color":"#2fdc2f","strokeWidth":3.2,"strokeDash":[3,3],"interpolate":"monotone"},
 "encoding":{"detail":{"field":"g"},"x":{"field":"x","type":"quantitative","scale":{"domain":[0,30],"nice":false,"zero":false},"axis":null},
  "y":{"field":"y","type":"quantitative","scale":{"type":"log","domain":[0.045,1.233],"nice":false},"axis":null}}},
{"data":{"name":"txt"},"mark":{"type":"text","align":"left","baseline":"middle","fontSize":19,"font":"Liberation Sans","color":"#1a1a1a"},
 "encoding":{"text":{"field":"t"},"x":{"field":"x","type":"quantitative","scale":{"domain":[0,30],"nice":false,"zero":false},"axis":null},
  "y":{"field":"y","type":"quantitative","scale":{"type":"log","domain":[0.045,1.233],"nice":false},"axis":null}}},
{"data":{"name":"txtit"},"mark":{"type":"text","align":"left","baseline":"middle","fontSize":19,"fontStyle":"italic","font":"Liberation Sans","color":"#1a1a1a"},
 "encoding":{"text":{"field":"t"},"x":{"field":"x","type":"quantitative","scale":{"domain":[0,30],"nice":false,"zero":false},"axis":null},
  "y":{"field":"y","type":"quantitative","scale":{"type":"log","domain":[0.045,1.233],"nice":false},"axis":null}}},
{"data":{"name":"txtsub"},"mark":{"type":"text","align":"left","baseline":"middle","fontSize":13,"font":"Liberation Sans","color":"#1a1a1a"},
 "encoding":{"text":{"field":"t"},"x":{"field":"x","type":"quantitative","scale":{"domain":[0,30],"nice":false,"zero":false},"axis":null},
  "y":{"field":"y","type":"quantitative","scale":{"type":"log","domain":[0.045,1.233],"nice":false},"axis":null}}},
{"data":{"name":"xtitle"},"mark":{"type":"text","align":"left","baseline":"alphabetic","fontSize":19,"font":"Liberation Sans","color":"#1a1a1a"},
 "encoding":{"text":{"field":"t"},"x":{"field":"x","type":"quantitative","scale":{"domain":[0,30],"nice":false,"zero":false},"axis":null},
  "y":{"field":"y","type":"quantitative","scale":{"type":"log","domain":[0.045,1.233],"nice":false},"axis":null}}},
{"data":{"name":"xtitleit"},"mark":{"type":"text","align":"left","baseline":"alphabetic","fontSize":19,"fontStyle":"italic","font":"Liberation Sans","color":"#1a1a1a"},
 "encoding":{"text":{"field":"t"},"x":{"field":"x","type":"quantitative","scale":{"domain":[0,30],"nice":false,"zero":false},"axis":null},
  "y":{"field":"y","type":"quantitative","scale":{"type":"log","domain":[0.045,1.233],"nice":false},"axis":null}}},
{"data":{"name":"xtitlesub"},"mark":{"type":"text","align":"left","baseline":"alphabetic","fontSize":13,"font":"Liberation Sans","color":"#1a1a1a"},
 "encoding":{"text":{"field":"t"},"x":{"field":"x","type":"quantitative","scale":{"domain":[0,30],"nice":false,"zero":false},"axis":null},
  "y":{"field":"y","type":"quantitative","scale":{"type":"log","domain":[0.045,1.233],"nice":false},"axis":null}}},
{"data":{"name":"ytitle"},"mark":{"type":"text","align":"left","baseline":"alphabetic","angle":270,"fontSize":26,"fontStyle":"italic","font":"Liberation Sans","color":"#1a1a1a"},
 "encoding":{"text":{"field":"t"},"x":{"field":"x","type":"quantitative","scale":{"domain":[0,30],"nice":false,"zero":false},"axis":null},
  "y":{"field":"y","type":"quantitative","scale":{"type":"log","domain":[0.045,1.233],"nice":false},"axis":null}}},
{"data":{"name":"ytitlesub"},"mark":{"type":"text","align":"left","baseline":"alphabetic","angle":270,"fontSize":14,"font":"Liberation Sans","color":"#1a1a1a"},
 "encoding":{"text":{"field":"t"},"x":{"field":"x","type":"quantitative","scale":{"domain":[0,30],"nice":false,"zero":false},"axis":null},
  "y":{"field":"y","type":"quantitative","scale":{"type":"log","domain":[0.045,1.233],"nice":false},"axis":null}}},
{"data":{"name":"taatxt"},"mark":{"type":"text","align":"left","baseline":"alphabetic","fontSize":10,"fontStyle":"italic","font":"Liberation Sans","color":"#444"},
 "encoding":{"text":{"field":"t"},"x":{"field":"x","type":"quantitative","scale":{"domain":[0,30],"nice":false,"zero":false},"axis":null},
  "y":{"field":"y","type":"quantitative","scale":{"type":"log","domain":[0.045,1.233],"nice":false},"axis":null}}},
{"data":{"name":"taatxt2"},"mark":{"type":"text","align":"left","baseline":"alphabetic","fontSize":6,"font":"Liberation Sans","color":"#444"},
 "encoding":{"text":{"field":"t"},"x":{"field":"x","type":"quantitative","scale":{"domain":[0,30],"nice":false,"zero":false},"axis":null},
  "y":{"field":"y","type":"quantitative","scale":{"type":"log","domain":[0.045,1.233],"nice":false},"axis":null}}},
{"data":{"name":"wm"},"mark":{"type":"text","align":"left","baseline":"alphabetic","fontSize":11,"font":"DejaVu Sans Mono","color":"#c8c8c8"},
 "encoding":{"text":{"field":"t"},"x":{"field":"x","type":"quantitative","scale":{"domain":[0,30],"nice":false,"zero":false},"axis":null},
  "y":{"field":"y","type":"quantitative","scale":{"type":"log","domain":[0.045,1.233],"nice":false},"axis":null}}}
]
}
